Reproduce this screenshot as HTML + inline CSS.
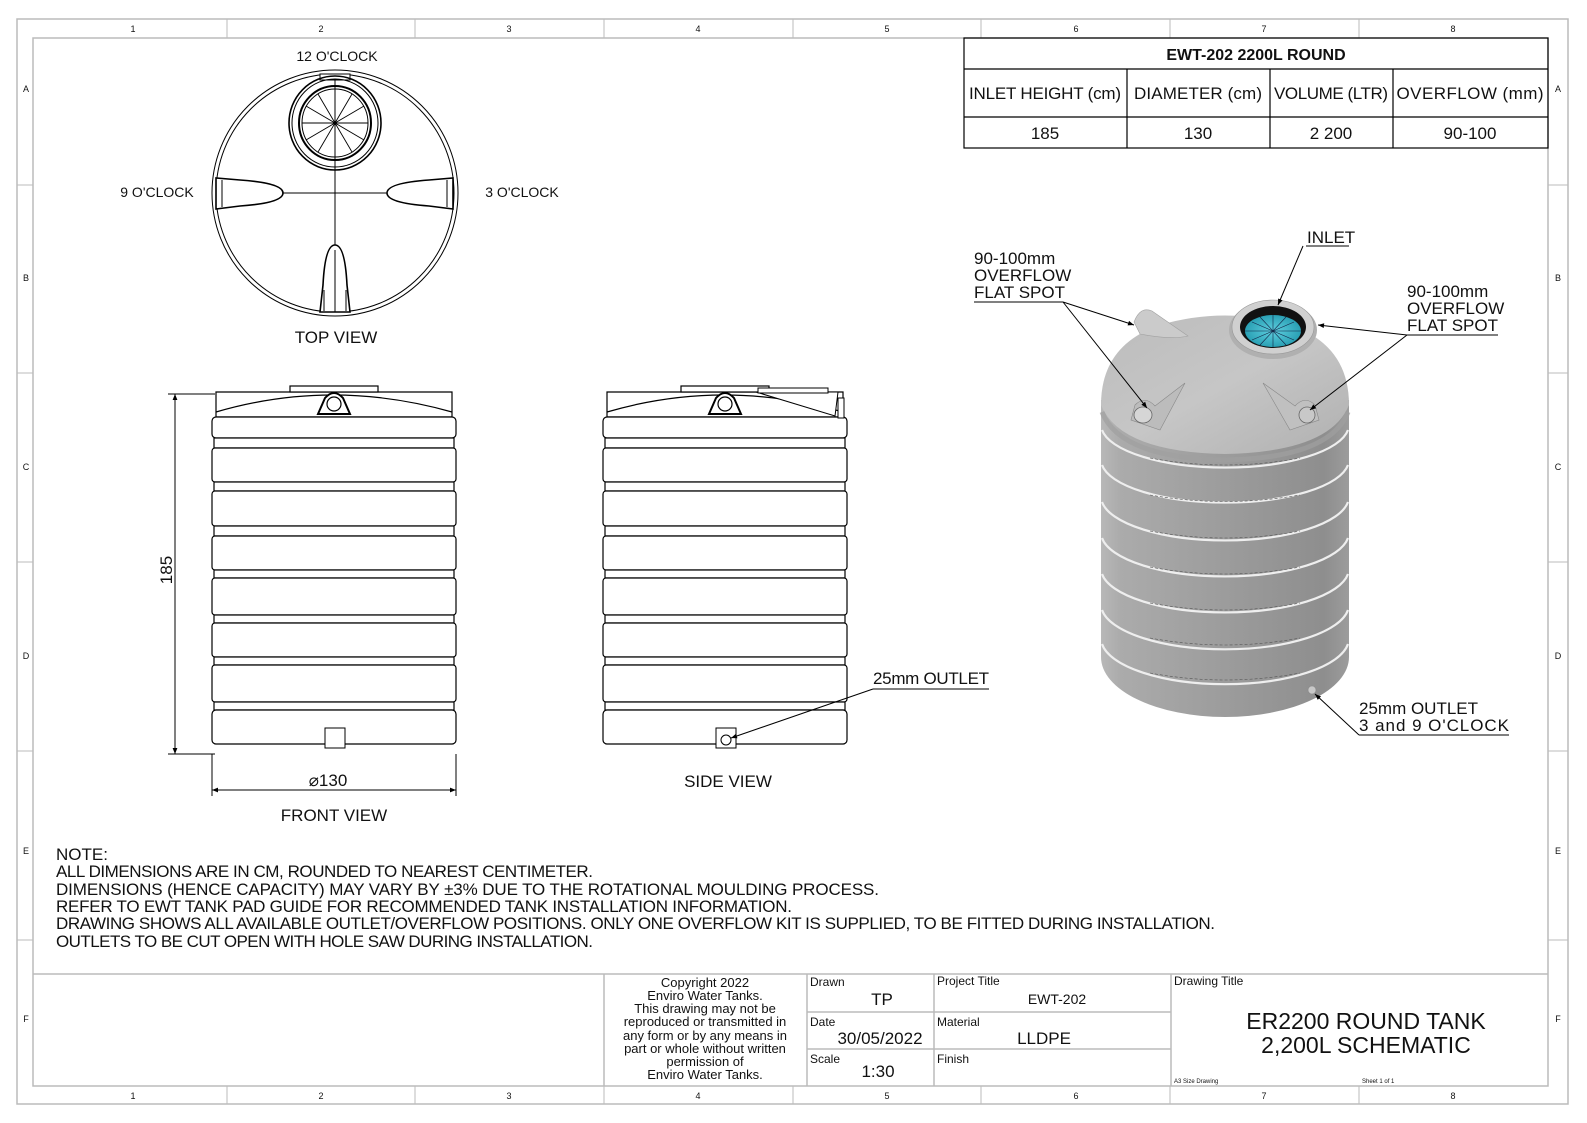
<!DOCTYPE html>
<html><head><meta charset="utf-8"><style>
html,body{margin:0;padding:0;background:#fff}
svg{display:block}
text{font-family:"Liberation Sans","DejaVu Sans",sans-serif;fill:#111}
</style></head><body>
<svg width="1587" height="1123" viewBox="0 0 1587 1123" xmlns="http://www.w3.org/2000/svg">
<defs>
<marker id="ar" viewBox="0 0 10 10" refX="10" refY="5" markerWidth="10" markerHeight="6" orient="auto-start-reverse" markerUnits="userSpaceOnUse"><path d="M0,1 L10,5 L0,9 z" fill="#000"/></marker>
<linearGradient id="body" x1="0" x2="1" y1="0" y2="0">
<stop offset="0" stop-color="#b8b8b8"/><stop offset="0.08" stop-color="#ababab"/><stop offset="0.5" stop-color="#9c9c9c"/><stop offset="0.9" stop-color="#8e8e8e"/><stop offset="1" stop-color="#9c9c9c"/></linearGradient>
<linearGradient id="dome" x1="0" x2="1" y1="0" y2="1">
<stop offset="0" stop-color="#bcbcbc"/><stop offset="0.5" stop-color="#c6c6c6"/><stop offset="1" stop-color="#b0b0b0"/></linearGradient>
<radialGradient id="teal"><stop offset="0" stop-color="#5fcfe0"/><stop offset="1" stop-color="#2aa0b4"/></radialGradient>
<g id="tank" fill="#fff" stroke="#000" stroke-width="1.2">
<path d="M4,392 L240,392 L240,417 L4,417 Z"/>
<path d="M4,412 Q120,378 240,412" fill="none"/>
<rect x="78" y="386" width="88" height="6" fill="#fff"/>
<path d="M106,414 L113,398 Q122,388 131,398 L138,414 Z" stroke-width="2"/>
<circle cx="122" cy="404" r="7"/>
<rect x="0" y="417" width="244" height="21" rx="4"/>
<rect x="2" y="438" width="240" height="10"/>
<rect x="0" y="448" width="244" height="34" rx="3"/>
<rect x="2" y="482" width="240" height="9"/>
<rect x="0" y="491" width="244" height="35" rx="3"/>
<rect x="2" y="526" width="240" height="10"/>
<rect x="0" y="536" width="244" height="34" rx="3"/>
<rect x="2" y="570" width="240" height="8"/>
<rect x="0" y="578" width="244" height="37" rx="3"/>
<rect x="2" y="615" width="240" height="8"/>
<rect x="0" y="623" width="244" height="34" rx="3"/>
<rect x="2" y="657" width="240" height="8"/>
<rect x="0" y="665" width="244" height="37" rx="3"/>
<rect x="2" y="702" width="240" height="8"/>
<rect x="0" y="710" width="244" height="34" rx="4"/>
</g>
</defs>

<!-- frame -->
<rect x="17" y="19" width="1551" height="1085" fill="none" stroke="#bbb" stroke-width="1.5"/>
<rect x="33" y="38" width="1515" height="1048" fill="none" stroke="#bbb" stroke-width="1.5"/>
<g stroke="#bbb" stroke-width="1">
<line x1="227" y1="19" x2="227" y2="38"/><line x1="415" y1="19" x2="415" y2="38"/><line x1="604" y1="19" x2="604" y2="38"/><line x1="793" y1="19" x2="793" y2="38"/><line x1="981" y1="19" x2="981" y2="38"/><line x1="1170" y1="19" x2="1170" y2="38"/><line x1="1359" y1="19" x2="1359" y2="38"/>
<line x1="227" y1="1086" x2="227" y2="1104"/><line x1="415" y1="1086" x2="415" y2="1104"/><line x1="604" y1="1086" x2="604" y2="1104"/><line x1="793" y1="1086" x2="793" y2="1104"/><line x1="981" y1="1086" x2="981" y2="1104"/><line x1="1170" y1="1086" x2="1170" y2="1104"/><line x1="1359" y1="1086" x2="1359" y2="1104"/>
<line x1="17" y1="185" x2="33" y2="185"/><line x1="17" y1="373" x2="33" y2="373"/><line x1="17" y1="562" x2="33" y2="562"/><line x1="17" y1="751" x2="33" y2="751"/><line x1="17" y1="940" x2="33" y2="940"/>
<line x1="1548" y1="185" x2="1568" y2="185"/><line x1="1548" y1="373" x2="1568" y2="373"/><line x1="1548" y1="562" x2="1568" y2="562"/><line x1="1548" y1="751" x2="1568" y2="751"/><line x1="1548" y1="940" x2="1568" y2="940"/>
</g>
<g font-size="9" text-anchor="middle" fill="#444">
<text x="133" y="32">1</text><text x="321" y="32">2</text><text x="509" y="32">3</text><text x="698" y="32">4</text><text x="887" y="32">5</text><text x="1076" y="32">6</text><text x="1264" y="32">7</text><text x="1453" y="32">8</text>
<text x="133" y="1099">1</text><text x="321" y="1099">2</text><text x="509" y="1099">3</text><text x="698" y="1099">4</text><text x="887" y="1099">5</text><text x="1076" y="1099">6</text><text x="1264" y="1099">7</text><text x="1453" y="1099">8</text>
<text x="26" y="92">A</text><text x="26" y="281">B</text><text x="26" y="470">C</text><text x="26" y="659">D</text><text x="26" y="854">E</text><text x="26" y="1022">F</text>
<text x="1558" y="92">A</text><text x="1558" y="281">B</text><text x="1558" y="470">C</text><text x="1558" y="659">D</text><text x="1558" y="854">E</text><text x="1558" y="1022">F</text>
</g>

<!-- spec table -->
<g fill="none" stroke="#000" stroke-width="1.2">
<rect x="964" y="38" width="584" height="110"/>
<line x1="964" y1="69" x2="1548" y2="69"/><line x1="964" y1="117" x2="1548" y2="117"/>
<line x1="1127" y1="69" x2="1127" y2="148"/><line x1="1270" y1="69" x2="1270" y2="148"/><line x1="1393" y1="69" x2="1393" y2="148"/>
</g>
<g font-size="17" text-anchor="middle">
<text x="1256" y="60" font-weight="bold" font-size="16">EWT-202 2200L ROUND</text>
<text x="1045" y="99" textLength="152">INLET HEIGHT (cm)</text><text x="1198" y="99" textLength="128">DIAMETER (cm)</text><text x="1331" y="99" textLength="114">VOLUME (LTR)</text><text x="1470" y="99" textLength="147">OVERFLOW (mm)</text>
<text x="1045" y="139">185</text><text x="1198" y="139">130</text><text x="1331" y="139">2 200</text><text x="1470" y="139">90-100</text>
</g>

<!-- top view -->
<g fill="none" stroke="#000" stroke-width="1">
<circle cx="335" cy="193" r="123"/><circle cx="335" cy="193" r="119"/>
<line x1="335" y1="78" x2="335" y2="312"/><line x1="280" y1="193" x2="390" y2="193"/>
<rect x="320" y="74" width="30" height="6" fill="#fff"/>
<ellipse cx="335" cy="123" rx="46" ry="47" stroke-width="1.6"/>
<ellipse cx="335" cy="123" rx="43" ry="44"/>
<ellipse cx="335" cy="123" rx="36" ry="37" stroke-width="2"/>
<ellipse cx="335" cy="123" rx="33" ry="34"/>
<g stroke-width="0.9">
<line x1="302" y1="123" x2="368" y2="123"/><line x1="335" y1="89" x2="335" y2="157"/>
<line x1="306" y1="106" x2="364" y2="140"/><line x1="306" y1="140" x2="364" y2="106"/>
<line x1="318" y1="94" x2="352" y2="152"/><line x1="318" y1="152" x2="352" y2="94"/>
</g>
<path d="M216,178 L216,209 L240,206 Q283,203 283,193 Q283,183 240,180 Z" fill="#fff" stroke-width="1.6"/>
<line x1="222" y1="180" x2="222" y2="207"/>
<path d="M453,178 L453,209 L429,206 Q387,203 387,193 Q387,183 429,180 Z" fill="#fff" stroke-width="1.6"/>
<line x1="447" y1="180" x2="447" y2="207"/>
<path d="M320,312 L350,312 L347,285 Q345,245 335,245 Q325,245 323,285 Z" fill="#fff" stroke-width="1.6"/>
<line x1="335" y1="250" x2="335" y2="312"/><line x1="324" y1="290" x2="324" y2="311"/><line x1="346" y1="290" x2="346" y2="311"/>
</g>
<g font-size="14" text-anchor="middle">
<text x="337" y="61">12 O'CLOCK</text>
<text x="157" y="197">9 O'CLOCK</text>
<text x="522" y="197">3 O'CLOCK</text>
<text x="336" y="343" font-size="17">TOP VIEW</text>
</g>

<!-- front view -->
<use href="#tank" transform="translate(212,0)"/>
<rect x="325" y="728" width="20" height="20" fill="#fff" stroke="#000" stroke-width="1"/>
<g stroke="#000" stroke-width="1" fill="none">
<line x1="168" y1="394" x2="215" y2="394"/><line x1="168" y1="754" x2="215" y2="754"/>
<line x1="175" y1="394" x2="175" y2="754" marker-start="url(#ar)" marker-end="url(#ar)"/>
<line x1="212" y1="754" x2="212" y2="796"/><line x1="456" y1="754" x2="456" y2="796"/>
<line x1="212" y1="790" x2="456" y2="790" marker-start="url(#ar)" marker-end="url(#ar)"/>
</g>
<text x="172" y="570" font-size="17" text-anchor="middle" transform="rotate(-90 172 570)">185</text>
<text x="328" y="786" font-size="17" text-anchor="middle">⌀130</text>
<text x="334" y="821" font-size="17" text-anchor="middle">FRONT VIEW</text>

<!-- side view -->
<use href="#tank" transform="translate(603,0)"/>
<g fill="#fff" stroke="#000" stroke-width="1">
<path d="M756,392 L835,416 L838,392 Z" fill="#fff"/>
<rect x="758" y="388" width="70" height="5"/>
<rect x="838" y="398" width="6" height="20"/>
<rect x="716" y="728" width="20" height="20"/>
<circle cx="726" cy="740" r="5"/>
</g>
<g stroke="#000" stroke-width="1" fill="none">
<line x1="873" y1="689" x2="989" y2="689"/>
<line x1="873" y1="689" x2="731" y2="738" marker-end="url(#ar)"/>
</g>
<text x="873" y="684" font-size="17" textLength="116">25mm OUTLET</text>
<text x="728" y="787" font-size="17" text-anchor="middle">SIDE VIEW</text>

<!-- 3D tank -->
<g>
<path d="M1101,400 L1101,657 A124,60 0 0 0 1349,657 L1349,400 Z" fill="url(#body)"/>
<path d="M1101,405 Q1101,345 1160,325 Q1225,306 1290,325 Q1349,345 1349,405 Q1330,452 1225,454 Q1120,452 1101,405 Z" fill="url(#dome)"/>
<path d="M1102,412 Q1120,458 1225,460 Q1330,458 1348,412" fill="none" stroke="#a0a0a0" stroke-width="5" opacity="0.7"/>
<g fill="none" stroke="#eee" stroke-width="2.2">
<path d="M1102,430 A124,43 0 0 0 1348,430"/>
<path d="M1102,465 A124,43 0 0 0 1348,465"/>
<path d="M1102,502 A124,44 0 0 0 1348,502"/>
<path d="M1102,538 A124,44 0 0 0 1348,538"/>
<path d="M1102,574 A124,44 0 0 0 1348,574"/>
<path d="M1102,610 A124,45 0 0 0 1348,610"/>
<path d="M1102,644 A124,46 0 0 0 1348,644"/>
</g>
<g fill="none" stroke="#555" stroke-width="0.6" stroke-dasharray="3,2">
<path d="M1150,458 Q1225,472 1300,458"/><path d="M1150,495 Q1225,508 1300,495"/><path d="M1150,531 Q1225,545 1300,531"/><path d="M1150,567 Q1225,581 1300,567"/><path d="M1150,603 Q1225,617 1300,603"/><path d="M1150,638 Q1225,652 1300,638"/><path d="M1150,673 Q1225,687 1300,673"/>
</g>
<!-- overflow cones -->
<path d="M1134,322 Q1140,306 1152,311 L1188,336 Q1170,340 1140,334 Z" fill="#cbcbcb" stroke="#a0a0a0" stroke-width="0.6"/>
<path d="M1131,420 L1135,405 Q1145,395 1155,406 L1185,383 L1160,430 Z" fill="#bcbcbc" stroke="#888" stroke-width="0.6"/>
<ellipse cx="1143" cy="415" rx="9" ry="8" fill="#d6d6d6" stroke="#666" stroke-width="0.8"/>
<path d="M1319,420 L1315,405 Q1305,395 1295,406 L1263,383 L1290,430 Z" fill="#c0c0c0" stroke="#888" stroke-width="0.6"/>
<ellipse cx="1307" cy="415" rx="8" ry="8" fill="#c8c8c8" stroke="#666" stroke-width="0.8"/>
<!-- inlet -->
<ellipse cx="1273" cy="330" rx="44" ry="29" fill="#b0b0b0"/>
<ellipse cx="1273" cy="327" rx="41" ry="27" fill="#d0d0d0" stroke="#999" stroke-width="0.6"/>
<ellipse cx="1273" cy="327" rx="33" ry="21" fill="#111"/>
<ellipse cx="1273" cy="331" rx="28" ry="16" fill="url(#teal)"/>
<g stroke="#124" stroke-width="0.6"><line x1="1245" y1="331" x2="1301" y2="331"/><line x1="1273" y1="315" x2="1273" y2="347"/><line x1="1252" y1="322" x2="1294" y2="340"/><line x1="1252" y1="340" x2="1294" y2="322"/><line x1="1260" y1="317" x2="1286" y2="345"/><line x1="1260" y1="345" x2="1286" y2="317"/></g>
<circle cx="1312" cy="690" r="4" fill="#c8c8c8" stroke="#888" stroke-width="0.6"/>
</g>
<!-- 3D labels -->
<g stroke="#000" stroke-width="1" fill="none">
<line x1="974" y1="302" x2="1063" y2="302"/>
<line x1="1063" y1="302" x2="1134" y2="325" marker-end="url(#ar)"/>
<line x1="1063" y1="302" x2="1147" y2="408" marker-end="url(#ar)"/>
<line x1="1306" y1="246" x2="1349" y2="246"/>
<line x1="1303" y1="246" x2="1278" y2="305" marker-end="url(#ar)"/>
<line x1="1407" y1="335" x2="1498" y2="335"/>
<line x1="1407" y1="335" x2="1318" y2="325" marker-end="url(#ar)"/>
<line x1="1407" y1="335" x2="1310" y2="410" marker-end="url(#ar)"/>
<line x1="1359" y1="735" x2="1509" y2="735"/>
<line x1="1359" y1="735" x2="1315" y2="694" marker-end="url(#ar)"/>
</g>
<g font-size="17">
<text x="974" y="264">90-100mm</text><text x="974" y="281">OVERFLOW</text><text x="974" y="298">FLAT SPOT</text>
<text x="1307" y="243">INLET</text>
<text x="1407" y="297">90-100mm</text><text x="1407" y="314">OVERFLOW</text><text x="1407" y="331">FLAT SPOT</text>
<text x="1359" y="714">25mm OUTLET</text><text x="1359" y="731" textLength="150">3 and 9 O'CLOCK</text>
</g>

<!-- notes -->
<g font-size="17">
<text x="56" y="860">NOTE:</text>
<text x="56" y="877" textLength="537">ALL DIMENSIONS ARE IN CM, ROUNDED TO NEAREST CENTIMETER.</text>
<text x="56" y="895" textLength="823">DIMENSIONS (HENCE CAPACITY) MAY VARY BY ±3% DUE TO THE ROTATIONAL MOULDING PROCESS.</text>
<text x="56" y="912" textLength="736">REFER TO EWT TANK PAD GUIDE FOR RECOMMENDED TANK INSTALLATION INFORMATION.</text>
<text x="56" y="929" textLength="1159">DRAWING SHOWS ALL AVAILABLE OUTLET/OVERFLOW POSITIONS. ONLY ONE OVERFLOW KIT IS SUPPLIED, TO BE FITTED DURING INSTALLATION.</text>
<text x="56" y="947" textLength="537">OUTLETS TO BE CUT OPEN WITH HOLE SAW DURING INSTALLATION.</text>
</g>

<!-- title block -->
<g fill="none" stroke="#bbb" stroke-width="1.5">
<line x1="33" y1="974" x2="1548" y2="974"/>
<line x1="604" y1="974" x2="604" y2="1086"/><line x1="807" y1="974" x2="807" y2="1086"/><line x1="934" y1="974" x2="934" y2="1086"/><line x1="1171" y1="974" x2="1171" y2="1086"/>
<line x1="807" y1="1012" x2="1171" y2="1012"/><line x1="807" y1="1049" x2="1171" y2="1049"/>
</g>
<g font-size="13" text-anchor="middle">
<text x="705" y="987">Copyright 2022</text><text x="705" y="1000">Enviro Water Tanks.</text><text x="705" y="1013">This drawing may not be</text><text x="705" y="1026">reproduced or transmitted in</text><text x="705" y="1040">any form or by any means in</text><text x="705" y="1053">part or whole without written</text><text x="705" y="1066">permission of</text><text x="705" y="1079">Enviro Water Tanks.</text>
</g>
<g font-size="12">
<text x="810" y="986">Drawn</text><text x="937" y="985">Project Title</text>
<text x="810" y="1026">Date</text><text x="937" y="1026">Material</text>
<text x="810" y="1063">Scale</text><text x="937" y="1063">Finish</text>
<text x="1174" y="985">Drawing Title</text>
<text x="1174" y="1083" font-size="6">A3 Size Drawing</text><text x="1362" y="1083" font-size="6">Sheet 1 of 1</text>
</g>
<g text-anchor="middle">
<text x="882" y="1005" font-size="17">TP</text>
<text x="1057" y="1004" font-size="14">EWT-202</text>
<text x="880" y="1044" font-size="17">30/05/2022</text>
<text x="1044" y="1044" font-size="17">LLDPE</text>
<text x="878" y="1077" font-size="17">1:30</text>
<text x="1366" y="1029" font-size="23">ER2200 ROUND TANK</text>
<text x="1366" y="1053" font-size="23">2,200L SCHEMATIC</text>
</g>
</svg>
</body></html>
